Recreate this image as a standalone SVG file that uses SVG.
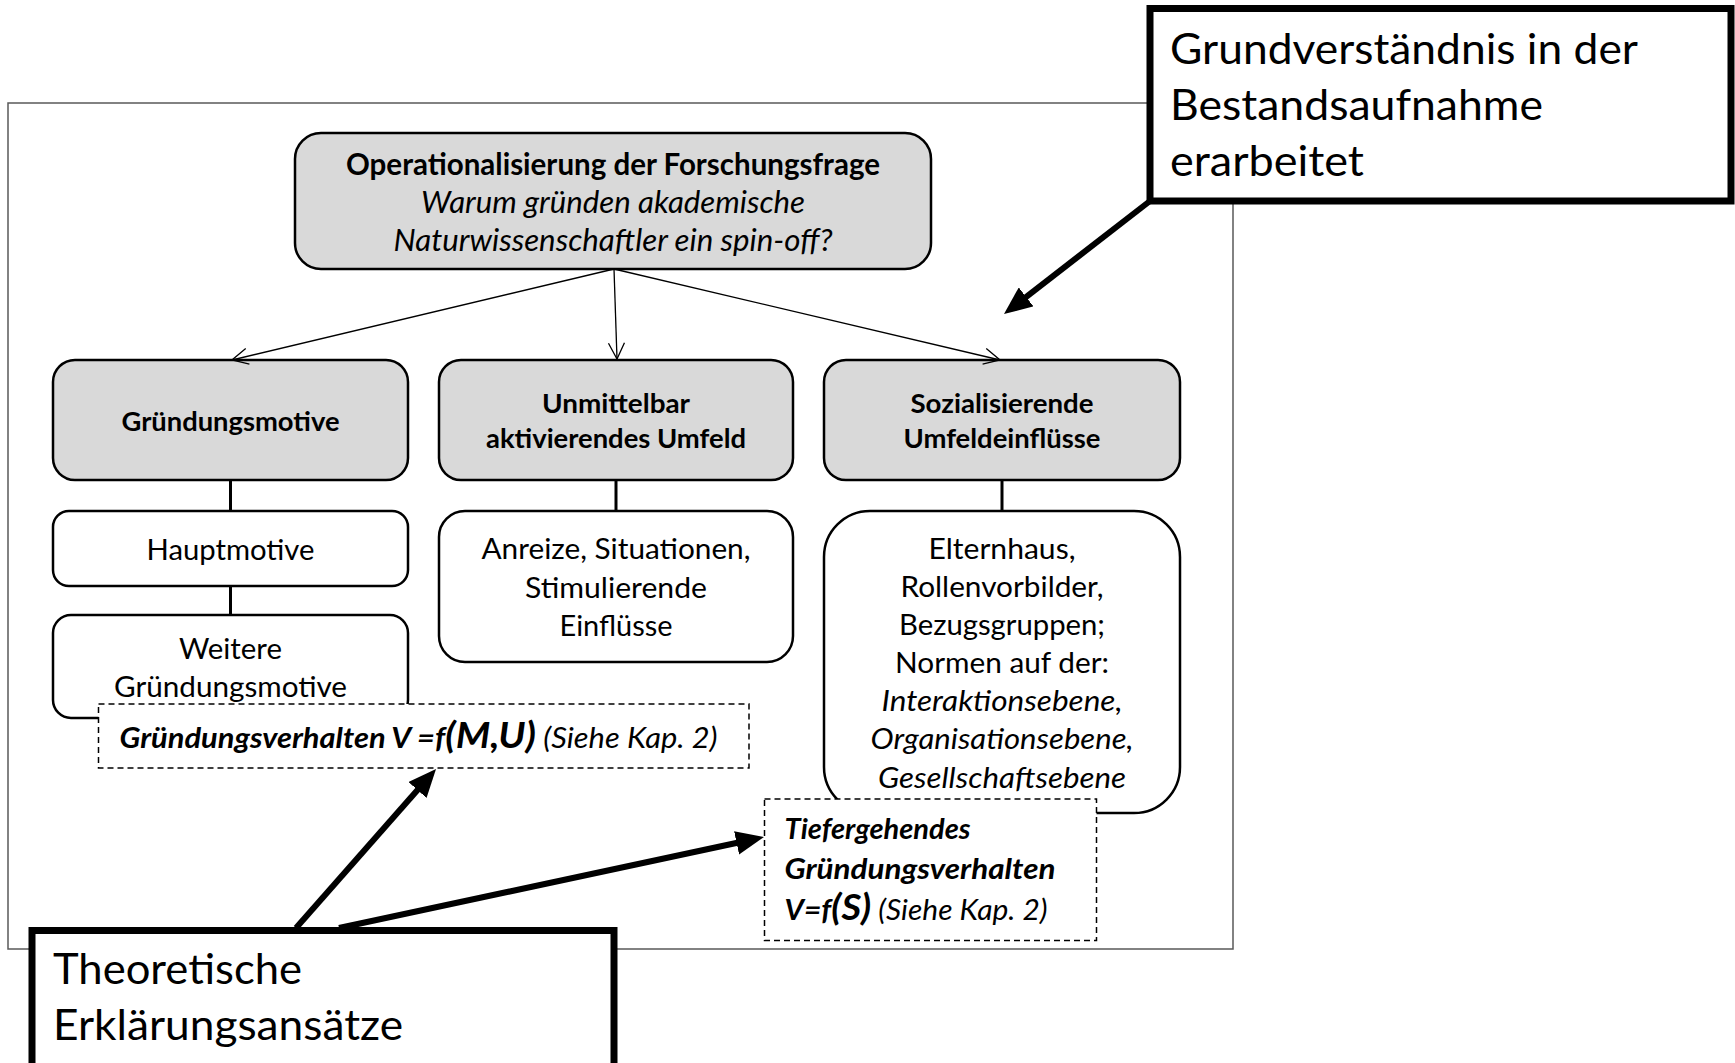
<svg xmlns="http://www.w3.org/2000/svg" width="1735" height="1063" viewBox="0 0 1735 1063">
<style>
.frame{fill:none;stroke:#595959;stroke-width:1.5}
.gray{fill:#d9d9d9;stroke:#000;stroke-width:2.5}
.white{fill:#fff;stroke:#000;stroke-width:2.5}
.dash{fill:#fff;stroke:#000;stroke-width:1.5;stroke-dasharray:6 4}
.callout{fill:#fff;stroke:#000;stroke-width:7}
.thin{fill:none;stroke:#000;stroke-width:1.3;marker-end:url(#open)}
.vline{stroke:#000;stroke-width:3}
.thick{fill:none;stroke:#000;stroke-width:6;marker-end:url(#solid)}
text{font-family:Lato,"Liberation Sans",sans-serif;fill:#000}
.c{text-anchor:middle}
.big{font-size:42px}
.title{font-size:30px;font-weight:bold}
.q{font-size:30px;font-style:italic}
.hd{font-size:27px;font-weight:bold}
.bd{font-size:28px}
.it{font-style:italic}
.bi{font-size:29px;font-weight:bold;font-style:italic}
.bigf{font-size:37px}
.ri{font-weight:normal}
</style>
<defs>
<marker id="open" markerUnits="userSpaceOnUse" viewBox="0 0 18 18" markerWidth="18" markerHeight="18" refX="17" refY="9" orient="auto">
<path d="M1,1 L17,9 L1,17" fill="none" stroke="#000" stroke-width="1.3"/>
</marker>
<marker id="solid" markerUnits="userSpaceOnUse" viewBox="0 0 28 24" markerWidth="28" markerHeight="24" refX="8" refY="12" orient="auto">
<path d="M0,0 L28,12 L0,24 Z" fill="#000"/>
</marker>
</defs>
<rect id="frame" class="frame" x="8" y="103" width="1225" height="846"/>
<g id="node-top">
<rect class="gray" x="295" y="133" width="636" height="136" rx="26"/>
<text class="c title" x="613" y="175" textLength="534" lengthAdjust="spacingAndGlyphs">Operationalisierung der Forschungsfrage</text>
<text class="c q" x="613" y="213" textLength="384" lengthAdjust="spacingAndGlyphs">Warum gründen akademische</text>
<text class="c q" x="613" y="251" textLength="439" lengthAdjust="spacingAndGlyphs">Naturwissenschaftler ein spin-off?</text>
</g>
<g id="node-motive">
<rect class="gray" x="53" y="360" width="355" height="120" rx="22"/>
<text class="c hd" x="230.5" y="431" textLength="218" lengthAdjust="spacingAndGlyphs">Gründungsmotive</text>
</g>
<g id="node-umfeld">
<rect class="gray" x="439" y="360" width="354" height="120" rx="22"/>
<text class="c hd" x="616" y="413" textLength="148" lengthAdjust="spacingAndGlyphs">Unmittelbar</text>
<text class="c hd" x="616" y="448" textLength="260" lengthAdjust="spacingAndGlyphs">aktivierendes Umfeld</text>
</g>
<g id="node-sozial">
<rect class="gray" x="824" y="360" width="356" height="120" rx="22"/>
<text class="c hd" x="1002" y="413" textLength="183" lengthAdjust="spacingAndGlyphs">Sozialisierende</text>
<text class="c hd" x="1002" y="448" textLength="197" lengthAdjust="spacingAndGlyphs">Umfeldeinflüsse</text>
</g>
<g id="node-haupt">
<rect class="white" x="53" y="511" width="355" height="75" rx="16"/>
<text class="c bd" x="230.5" y="560" textLength="168" lengthAdjust="spacingAndGlyphs">Hauptmotive</text>
</g>
<g id="node-weitere">
<rect class="white" x="53" y="615" width="355" height="103" rx="18"/>
<text class="c bd" x="230.5" y="659" textLength="103" lengthAdjust="spacingAndGlyphs">Weitere</text>
<text class="c bd" x="230.5" y="697" textLength="233" lengthAdjust="spacingAndGlyphs">Gründungsmotive</text>
</g>
<g id="node-anreize">
<rect class="white" x="439" y="511" width="354" height="151" rx="26"/>
<text class="c bd" x="616" y="559" textLength="269" lengthAdjust="spacingAndGlyphs">Anreize, Situationen,</text>
<text class="c bd" x="616" y="598" textLength="182" lengthAdjust="spacingAndGlyphs">Stimulierende</text>
<text class="c bd" x="616" y="636" textLength="113" lengthAdjust="spacingAndGlyphs">Einflüsse</text>
</g>
<g id="node-eltern">
<rect class="white" x="824" y="511" width="356" height="302" rx="46"/>
<text class="c bd" x="1002" y="559" textLength="147" lengthAdjust="spacingAndGlyphs">Elternhaus,</text>
<text class="c bd" x="1002" y="597" textLength="203" lengthAdjust="spacingAndGlyphs">Rollenvorbilder,</text>
<text class="c bd" x="1002" y="635" textLength="206" lengthAdjust="spacingAndGlyphs">Bezugsgruppen;</text>
<text class="c bd" x="1002" y="673" textLength="214" lengthAdjust="spacingAndGlyphs">Normen auf der:</text>
<text class="c bd it" x="1002" y="711" textLength="241" lengthAdjust="spacingAndGlyphs">Interaktionsebene,</text>
<text class="c bd it" x="1002" y="749" textLength="263" lengthAdjust="spacingAndGlyphs">Organisationsebene,</text>
<text class="c bd it" x="1002" y="788" textLength="248" lengthAdjust="spacingAndGlyphs">Gesellschaftsebene</text>
</g>
<g id="node-verhalten-mu">
<rect class="dash" x="98.5" y="704" width="650.5" height="64"/>
<text class="bi" x="119.5" y="748" textLength="598" lengthAdjust="spacingAndGlyphs">Gründungsverhalten V =f<tspan class="bigf">(M,U)</tspan><tspan class="ri"> (Siehe Kap. 2)</tspan></text>
</g>
<g id="node-verhalten-s">
<rect class="dash" x="764.5" y="799" width="332" height="141.5"/>
<text class="bi" x="784.5" y="839" textLength="186" lengthAdjust="spacingAndGlyphs">Tiefergehendes</text>
<text class="bi" x="784.5" y="879" textLength="271" lengthAdjust="spacingAndGlyphs">Gründungsverhalten</text>
<text class="bi" x="784.5" y="920" textLength="263" lengthAdjust="spacingAndGlyphs">V=f<tspan class="bigf">(S)</tspan><tspan class="ri"> (Siehe Kap. 2)</tspan></text>
</g>
<g id="callout-grund">
<rect class="callout" x="1150" y="8.5" width="581" height="192.5"/>
<text class="big" x="1170" y="64" textLength="468" lengthAdjust="spacingAndGlyphs">Grundverständnis in der</text>
<text class="big" x="1170" y="120" textLength="373" lengthAdjust="spacingAndGlyphs">Bestandsaufnahme</text>
<text class="big" x="1170" y="176" textLength="194" lengthAdjust="spacingAndGlyphs">erarbeitet</text>
</g>
<g id="callout-theorie">
<rect class="callout" x="32" y="930.5" width="582" height="200"/>
<text class="big" x="53" y="984" textLength="249" lengthAdjust="spacingAndGlyphs">Theoretische</text>
<text class="big" x="53" y="1040" textLength="350" lengthAdjust="spacingAndGlyphs">Erklärungsansätze</text>
</g>
<g id="connectors">
<path class="thin" d="M614,269 L232,360"/>
<path class="thin" d="M614,269 L617,359"/>
<path class="thin" d="M614,269 L1000,360"/>
<line class="vline" x1="230.5" y1="480" x2="230.5" y2="511"/>
<line class="vline" x1="230.5" y1="586" x2="230.5" y2="615"/>
<line class="vline" x1="616" y1="480" x2="616" y2="511"/>
<line class="vline" x1="1002" y1="480" x2="1002" y2="511"/>
<path class="thick" d="M296,928 L422.8,784"/>
<path class="thick" d="M339,928 L744.4,841.2"/>
<path class="thick" d="M1150,201 L1019.8,301.8"/>
</g>
</svg>
